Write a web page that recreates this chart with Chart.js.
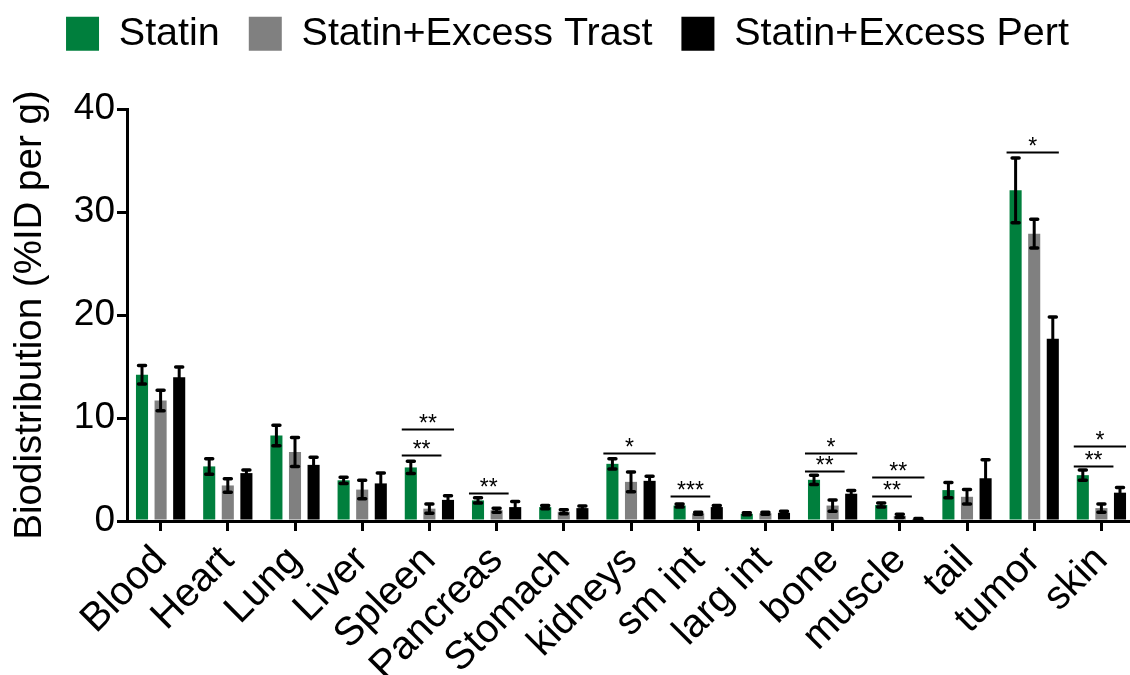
<!DOCTYPE html>
<html>
<head>
<meta charset="utf-8">
<script src="https://cdn.jsdelivr.net/npm/chart.js@4.4.1/dist/chart.umd.min.js"></script>
<style>
  body { margin: 0; background: #fff; overflow: hidden; }
  #wrap { width: 1135px; height: 675px; position: relative; }
</style>
</head>
<body>
<div id="wrap"><canvas id="bio"></canvas></div>
<script>
const organs = ['Blood', 'Heart', 'Lung', 'Liver', 'Spleen', 'Pancreas', 'Stomach', 'kidneys',
  'sm int', 'larg int', 'bone', 'muscle', 'tail', 'tumor', 'skin'];

const statin    = [14.2, 5.3, 8.3, 3.95, 5.2, 2.0, 1.35, 5.55, 1.5, 0.7, 4.0, 1.55, 3.0, 32.1, 4.45];
const statinErr = [0.9, 0.75, 1.0, 0.3, 0.6, 0.25, 0.15, 0.5, 0.15, 0.1, 0.45, 0.2, 0.75, 3.15, 0.5];
const trast     = [11.7, 3.45, 6.7, 3.05, 1.2, 1.05, 0.9, 3.8, 0.75, 0.75, 1.5, 0.5, 2.35, 27.9, 1.25];
const trastErr  = [1.0, 0.65, 1.4, 0.9, 0.45, 0.2, 0.2, 0.95, 0.1, 0.1, 0.55, 0.15, 0.7, 1.4, 0.4];
const pert      = [13.95, 4.65, 5.45, 3.65, 2.05, 1.35, 1.25, 3.9, 1.35, 0.8, 2.65, 0.2, 4.15, 17.7, 2.75];
const pertErr   = [1.0, 0.3, 0.75, 1.0, 0.4, 0.55, 0.2, 0.45, 0.15, 0.15, 0.3, 0.05, 1.8, 2.1, 0.5];

const yTicks = [0, 10, 20, 30, 40];

// significance brackets: organ, compared series (1 = Trast, 2 = Pert), height, label
const sigOrgan = ['Spleen', 'Spleen', 'Pancreas', 'kidneys', 'sm int', 'bone', 'bone', 'muscle', 'muscle', 'tumor', 'skin', 'skin'];
const sigTo    = [2, 1, 1, 2, 1, 2, 1, 2, 1, 2, 2, 1];
const sigY     = [8.9, 6.45, 2.75, 6.6, 2.4, 6.6, 4.85, 4.25, 2.45, 35.8, 7.25, 5.35];
const sigLabel = ['**', '**', '**', '*', '***', '*', '**', '**', '**', '*', '*', '**'];

const FONT = "'Liberation Sans', Arial, Helvetica, sans-serif";
const errs = [statinErr, trastErr, pertErr];

const errorBars = {
  id: 'errorBars',
  afterDatasetsDraw(chart) {
    const ctx = chart.ctx, y = chart.scales.y;
    ctx.save();
    ctx.strokeStyle = '#000';
    chart.data.datasets.forEach((ds, d) => {
      chart.getDatasetMeta(d).data.forEach((bar, i) => {
        const v = ds.data[i], e = errs[d][i];
        const top = y.getPixelForValue(v + e), bot = y.getPixelForValue(Math.max(v - e, 0));
        ctx.lineWidth = 3;
        ctx.lineCap = 'butt';
        ctx.beginPath();
        ctx.moveTo(bar.x, top); ctx.lineTo(bar.x, bot);
        ctx.stroke();
        ctx.lineWidth = 3.5;
        ctx.lineCap = 'round';
        ctx.beginPath();
        ctx.moveTo(bar.x - 3.5, top); ctx.lineTo(bar.x + 3.5, top);
        ctx.moveTo(bar.x - 3.5, bot); ctx.lineTo(bar.x + 3.5, bot);
        ctx.stroke();
      });
    });
    ctx.restore();
  }
};

const sigBrackets = {
  id: 'sigBrackets',
  afterDatasetsDraw(chart) {
    const ctx = chart.ctx, y = chart.scales.y;
    ctx.save();
    ctx.strokeStyle = '#000';
    ctx.fillStyle = '#000';
    ctx.lineWidth = 2;
    ctx.font = '23px ' + FONT;
    ctx.textAlign = 'center';
    ctx.textBaseline = 'alphabetic';
    sigOrgan.forEach((o, k) => {
      const i = organs.indexOf(o);
      const first = chart.getDatasetMeta(0).data[i];
      const last = chart.getDatasetMeta(sigTo[k]).data[i];
      const x0 = first.x - first.width / 2 - 3;
      const x1 = last.x + last.width / 2 + (sigTo[k] === 1 ? 6 : 0);
      const py = Math.round(y.getPixelForValue(sigY[k])) + 0.5;
      ctx.beginPath();
      ctx.moveTo(x0, py); ctx.lineTo(x1, py);
      ctx.stroke();
      ctx.fillText(sigLabel[k], (x0 + x1) / 2, py + 1);
    });
    ctx.restore();
  }
};

const legendSpace = {
  id: 'legendSpace',
  beforeLayout(chart) {
    const lg = chart.legend;
    if (lg && !lg._spaced) {
      const fit = lg.fit;
      lg.fit = function () { fit.call(this); this.height = 124; };
      lg._spaced = true;
    }
  }
};

new Chart(document.getElementById('bio'), {
  type: 'bar',
  data: {
    labels: organs,
    datasets: [
      { label: 'Statin', data: statin, backgroundColor: '#007F3D' },
      { label: 'Statin+Excess Trast', data: trast, backgroundColor: '#808080' },
      { label: 'Statin+Excess Pert', data: pert, backgroundColor: '#000000' }
    ]
  },
  options: {
    responsive: true,
    maintainAspectRatio: false,
    animation: false,
    datasets: { bar: { categoryPercentage: 0.83, barPercentage: 0.65, borderWidth: 0 } },
    layout: { padding: { top: -15, left: 0, right: 0, bottom: 0 } },
    plugins: {
      tooltip: { enabled: false },
      legend: {
        position: 'top',
        labels: {
          color: '#000',
          font: { family: FONT, size: 39.5 },
          boxWidth: 33,
          boxHeight: 34,
          padding: 29
        }
      }
    },
    scales: {
      x: {
        grid: { display: true, drawOnChartArea: false, drawTicks: true, offset: false,
          tickLength: 10, lineWidth: 3, color: '#000' },
        border: { display: true, width: 3, color: '#000' },
        ticks: { color: '#000', font: { family: FONT, size: 40 }, minRotation: 45, maxRotation: 45,
          autoSkip: false, padding: 6 },
        afterFit(s) { s.height = 154; s.paddingLeft = 0; s.paddingRight = 0; }
      },
      y: {
        min: 0, max: 40,
        afterBuildTicks(s) { s.ticks = yTicks.map(v => ({ value: v })); },
        grid: { display: true, drawOnChartArea: false, drawTicks: true, tickLength: 10,
          lineWidth: 3, color: '#000' },
        border: { display: true, width: 3, color: '#000' },
        ticks: { color: '#000', font: { family: FONT, size: 37 }, padding: 2 },
        title: { display: true, text: 'Biodistribution (%ID per g)', color: '#000',
          font: { family: FONT, size: 38.5 }, padding: { top: 7, bottom: 0 } },
        afterFit(s) { s.width = 127; }
      }
    }
  },
  plugins: [errorBars, sigBrackets, legendSpace]
});
</script>
</body>
</html>
